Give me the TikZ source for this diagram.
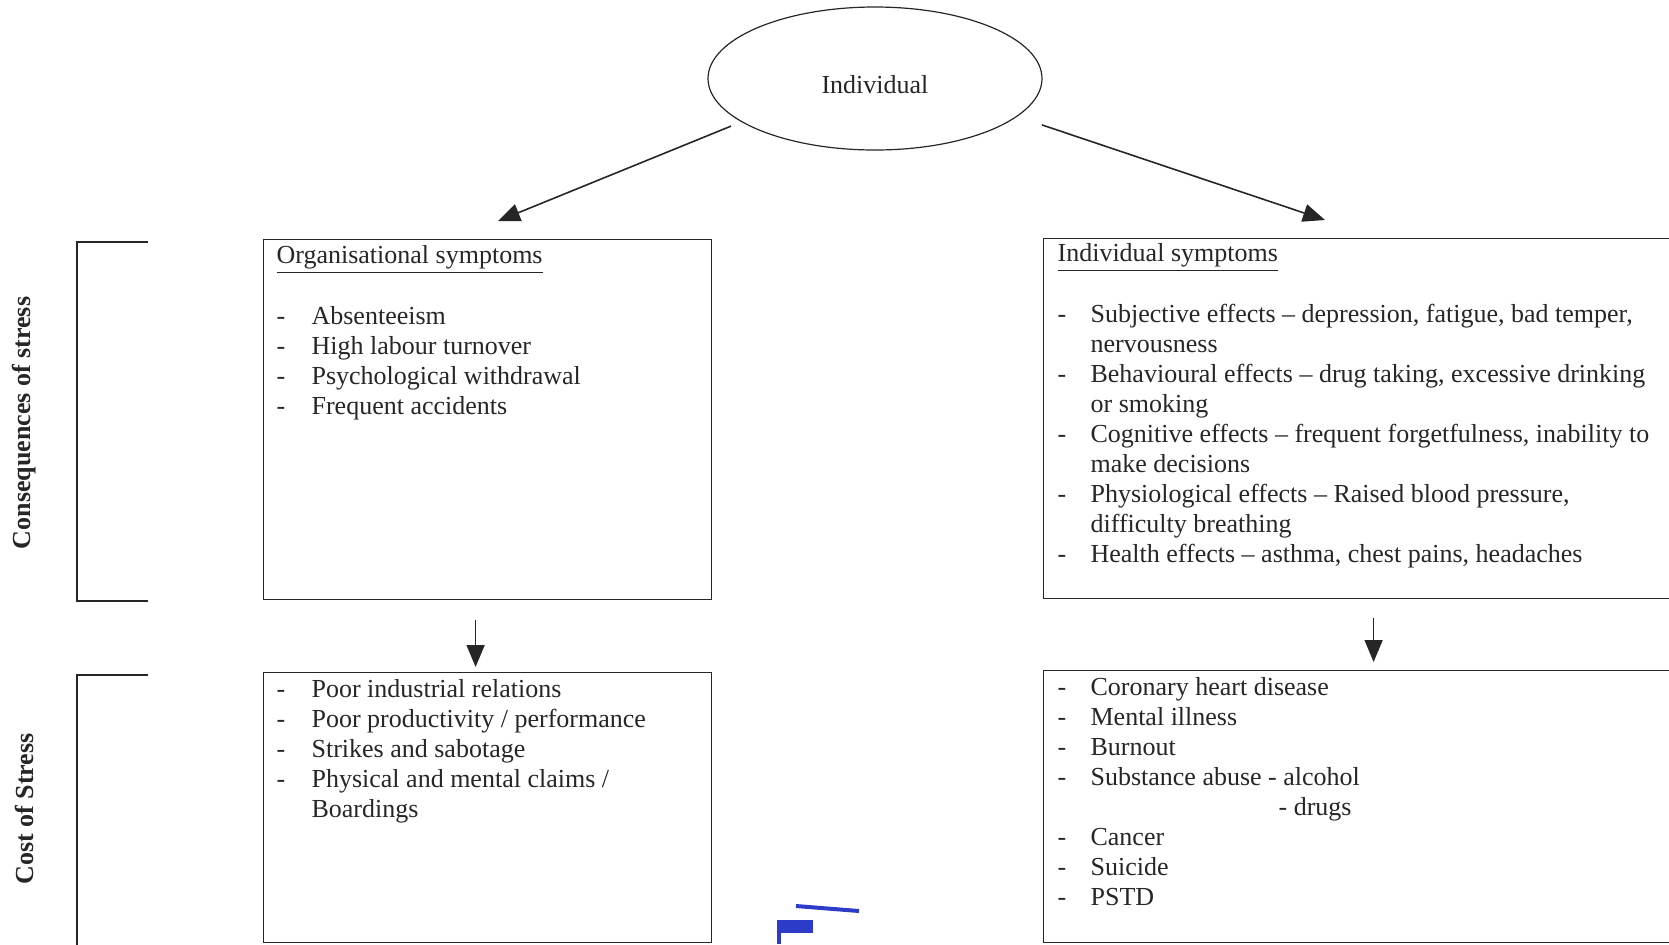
\documentclass[tikz,border=0pt]{standalone}
\usepackage{fontspec}
\setmainfont{Liberation Serif}
\usetikzlibrary{positioning, arrows.meta, shapes.geometric}
\definecolor{scanblue}{RGB}{45,60,200}

\begin{document}
\begin{tikzpicture}[x=0.5pt, y=-0.5pt, line width=0.6pt, color=black!85,
		box/.style={draw, rectangle, anchor=north west, inner sep=0pt},
		txt/.style={inner sep=0pt, align=left, font=\fontsize{13}{15}\selectfont},
		side/.style={rotate=90, font=\bfseries\fontsize{13}{15}\selectfont},
		arr/.style={-{Triangle[length=11pt, width=9pt]}, line width=0.8pt}]
		\useasboundingbox (0,0) rectangle (1669,944);

		\node [draw, ellipse, minimum width=167pt, minimum height=71.5pt, font=\fontsize{13}{15}\selectfont] (ind) at (875,78.5) {\raisebox{-4.5pt}[9pt][3pt]{Individual}};

		\node [box, minimum width=224pt, minimum height=180pt] (org) at (263,239) {};
		\node [box, minimum width=320pt, minimum height=180pt] (isym) at (1043,238) {};
		\node [box, minimum width=224pt, minimum height=135pt] (ocost) at (263,672) {};
		\node [box, minimum width=320pt, minimum height=136pt] (icost) at (1043,670) {};

		\node [txt, below right=1.5pt and 6.5pt of org.north west] (orgtxt) {%
			\begin{tabular}{@{}p{17.5pt}@{}l@{}}
				\multicolumn{2}{@{}l@{}}{\underline{Organisational symptoms}}\\ &\\
				- & Absenteeism\\
				- & High labour turnover\\
				- & Psychological withdrawal\\
				- & Frequent accidents
			\end{tabular}};
		\node [txt, below right=1pt and 7pt of isym.north west] (isymtxt) {%
			\begin{tabular}{@{}p{16.5pt}@{}l@{}}
				\multicolumn{2}{@{}l@{}}{\underline{Individual symptoms}}\\ &\\
				- & Subjective effects -- depression, fatigue, bad temper,\\
				  & nervousness\\
				- & Behavioural effects -- drug taking, excessive drinking\\
				  & or smoking\\
				- & Cognitive effects -- frequent forgetfulness, inability to\\
				  & make decisions\\
				- & Physiological effects -- Raised blood pressure,\\
				  & difficulty breathing\\
				- & Health effects -- asthma, chest pains, headaches
			\end{tabular}};
		\node [txt, below right=2pt and 6.5pt of ocost.north west] (ocosttxt) {%
			\begin{tabular}{@{}p{17.5pt}@{}l@{}}
				- & Poor industrial relations\\
				- & Poor productivity / performance\\
				- & Strikes and sabotage\\
				- & Physical and mental claims /\\
				  & Boardings
			\end{tabular}};
		\node [txt, below right=2pt and 7pt of icost.north west] (icosttxt) {%
			\begin{tabular}{@{}p{16.5pt}@{}l@{}}
				- & Coronary heart disease\\
				- & Mental illness\\
				- & Burnout\\
				- & Substance abuse - alcohol\\
				  & \hspace*{94pt}- drugs\\
				- & Cancer\\
				- & Suicide\\
				- & PSTD
			\end{tabular}};

		\node [side] (cons) at (24,423) {Consequences of stress};
		\node [side] (cost) at (24,809) {Cost of Stress};
		\draw (148,242) -| (77,601) -- (148,601);
		\draw (148,675) -| (77,950);

		\coordinate (ltip) at (498,221);
		\coordinate (rtip) at (1325,220);
		\path[arr] (ind.198) edge [shorten <=5.5pt] (ltip);
		\path[arr] (ind.345) edge [shorten <=13pt] (rtip);
		\path[arr] ([xshift=-6pt]org.south) edge [shorten <=10pt, shorten >=2.5pt] ([xshift=-6pt]ocost.north);
		\path[arr] ([xshift=5pt]isym.south) edge [shorten <=9.5pt, shorten >=4pt] ([xshift=5pt]icost.north);

		% scanned ink mark
		\fill[scanblue] (777,920) rectangle (813,933);
		\fill[scanblue] (777,920) rectangle (781,944);
		\draw[scanblue, line width=2pt] (796,906) -- (859,911);
	\end{tikzpicture}
\end{document}
